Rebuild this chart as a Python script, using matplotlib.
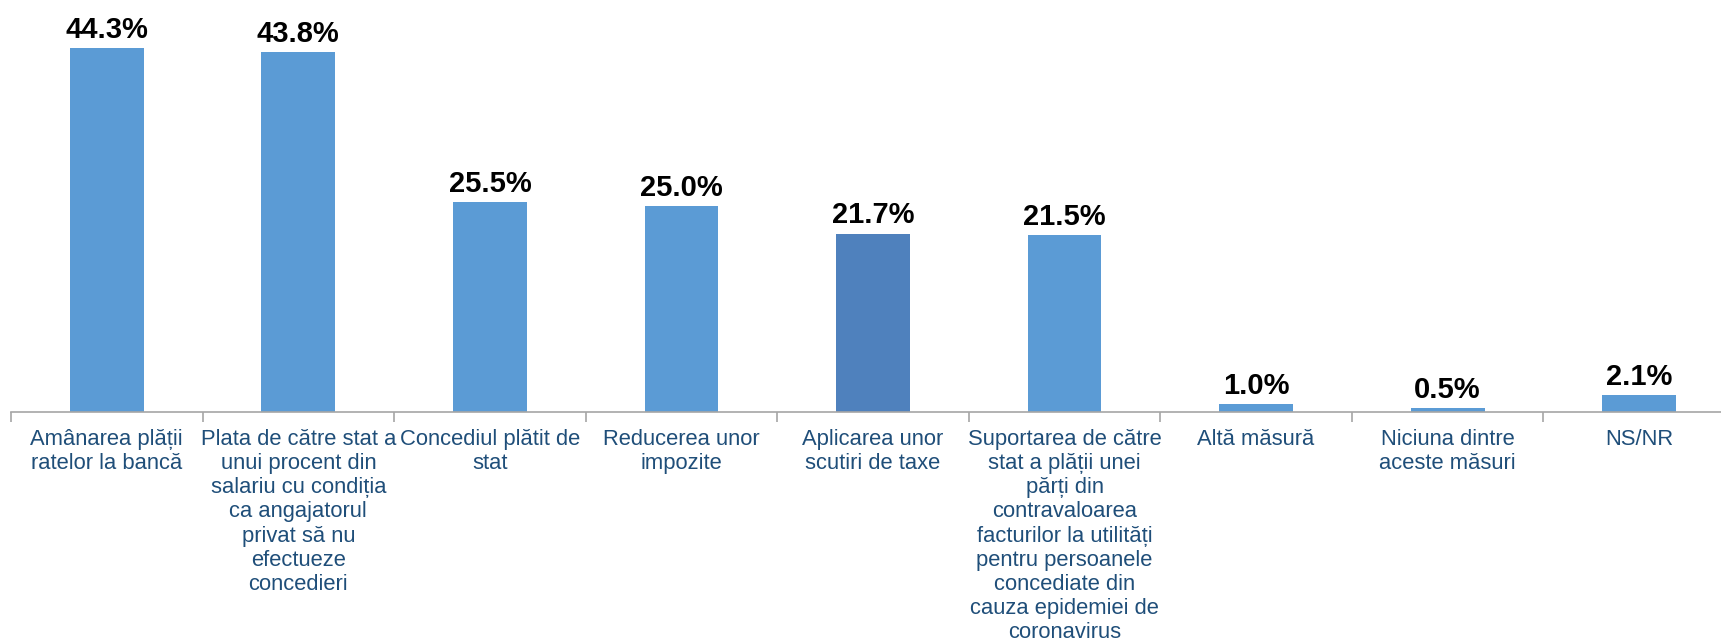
import matplotlib.pyplot as plt
import numpy as np

plt.rcParams['font.family'] = ['Liberation Sans', 'DejaVu Sans']

categories = ['Amânarea plății\nratelor la bancă',
              'Plata de către stat a\nunui procent din\nsalariu cu condiția\nca angajatorul\nprivat să nu\nefectueze\nconcedieri',
              'Concediul plătit de\nstat',
              'Reducerea unor\nimpozite',
              'Aplicarea unor\nscutiri de taxe',
              'Suportarea de către\nstat a plății unei\npărți din\ncontravaloarea\nfacturilor la utilități\npentru persoanele\nconcediate din\ncauza epidemiei de\ncoronavirus',
              'Altă măsură',
              'Niciuna dintre\naceste măsuri',
              'NS/NR']
values = [44.3, 43.8, 25.5, 25.0, 21.7, 21.5, 1.0, 0.5, 2.1]

colors = ['#5B9BD5'] * len(values)
colors[4] = '#4F81BD'  # highlighted bar

fig = plt.figure(figsize=(17.21, 6.41), dpi=100)
ax = fig.add_axes([11 / 1721, 0.357, 1724 / 1721, 0.643])

x = np.arange(len(values))
ax.bar(x, values, width=0.385, color=colors)

# value labels above bars
for xi, v in zip(x, values):
    ax.annotate(f'{v:.1f}%', (xi, v), xytext=(0, 3), textcoords='offset points',
                ha='center', va='bottom', fontsize=21, fontweight='bold', color='black')

ax.set_xlim(-0.5, len(values) - 0.5)
ax.set_ylim(0, 50.1)

# labels at centers, tick marks between categories
ax.set_xticks(x)
ax.set_xticklabels(categories, fontsize=15.8, color='#1F4E79', linespacing=1.2, va='top')
ax.tick_params(axis='x', which='major', length=0, pad=12)
ax.set_xticks(np.arange(len(values) + 1) - 0.5, minor=True)
ax.tick_params(axis='x', which='minor', length=7, color='#A6A6A6', width=1.2)

ax.set_yticks([])
for s in ['top', 'right', 'left']:
    ax.spines[s].set_visible(False)
ax.spines['bottom'].set_color('#A6A6A6')
ax.spines['bottom'].set_linewidth(1.2)

plt.savefig('out.png', dpi=100)
